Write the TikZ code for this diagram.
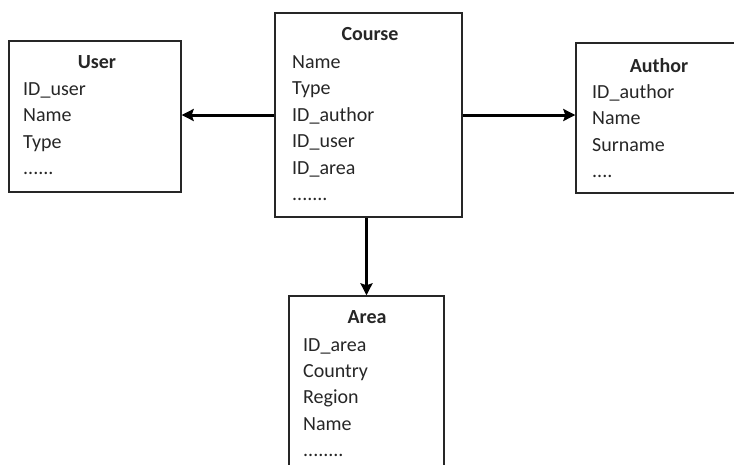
\documentclass[tikz,border=0pt]{standalone}
\usepackage{fontspec}
\setmainfont{Carlito}
\usetikzlibrary{arrows.meta}

\tikzset{
  entity/.style={draw=black!85, line width=1.4pt, inner sep=0pt},
  title/.style={font=\fontsize{20}{24}\selectfont\bfseries, text=black!85, anchor=base, inner sep=0pt},
  field/.style={font=\fontsize{20}{24}\selectfont, text=black!85, anchor=base west, inner sep=0pt},
  link/.style={line width=3pt, -{Stealth[length=12pt,width=12pt,inset=2pt]}}
}

\begin{document}
\begin{tikzpicture}[x=1pt,y=-1pt]
  \useasboundingbox (0,0) rectangle (734,464);

  %%%%% boxes %%%%%
  \node[entity, minimum width=172pt, minimum height=151pt] (user) at (95,116.5) {};
  \node[entity, minimum width=187pt, minimum height=204pt] (course) at (368.5,115) {};
  \node[entity, minimum width=169pt, minimum height=150pt] (author) at (660.5,118) {};
  \node[entity, minimum width=155pt, minimum height=180pt] (area) at (366.5,386) {};

  %%%%% User %%%%%
  \node[title] (user-t) at (97,68) {User};
  \node[field] (user-1) at (23,95) {ID\_user};
  \node[field] (user-2) at (23,121.5) {Name};
  \node[field] (user-3) at (23,148) {Type};
  \node[field] (user-4) at (23,174.5) {......};

  %%%%% Course %%%%%
  \node[title] (course-t) at (370,40) {Course};
  \node[field] (course-1) at (292,68) {Name};
  \node[field] (course-2) at (292,94.5) {Type};
  \node[field] (course-3) at (292,121) {ID\_author};
  \node[field] (course-4) at (292,147.5) {ID\_user};
  \node[field] (course-5) at (292,174) {ID\_area};
  \node[field] (course-6) at (292,200.5) {.......};

  %%%%% Author %%%%%
  \node[title] (author-t) at (659,72) {Author};
  \node[field] (author-1) at (592,98) {ID\_author};
  \node[field] (author-2) at (592,124.5) {Name};
  \node[field] (author-3) at (592,151) {Surname};
  \node[field] (author-4) at (592,177.5) {....};

  %%%%% Area %%%%%
  \node[title] (area-t) at (367,323) {Area};
  \node[field] (area-1) at (303,351) {ID\_area};
  \node[field] (area-2) at (303,377) {Country};
  \node[field] (area-3) at (303,403.5) {Region};
  \node[field] (area-4) at (303,430) {Name};
  \node[field] (area-5) at (303,456) {........};

  %%%%% links %%%%%
  \draw[link] (course.west) -- (user.east |- course.west);
  \draw[link] (course.east) -- (author.west |- course.east);
  \draw[link] (course.south -| area.north) -- (area.north);
\end{tikzpicture}
\end{document}
